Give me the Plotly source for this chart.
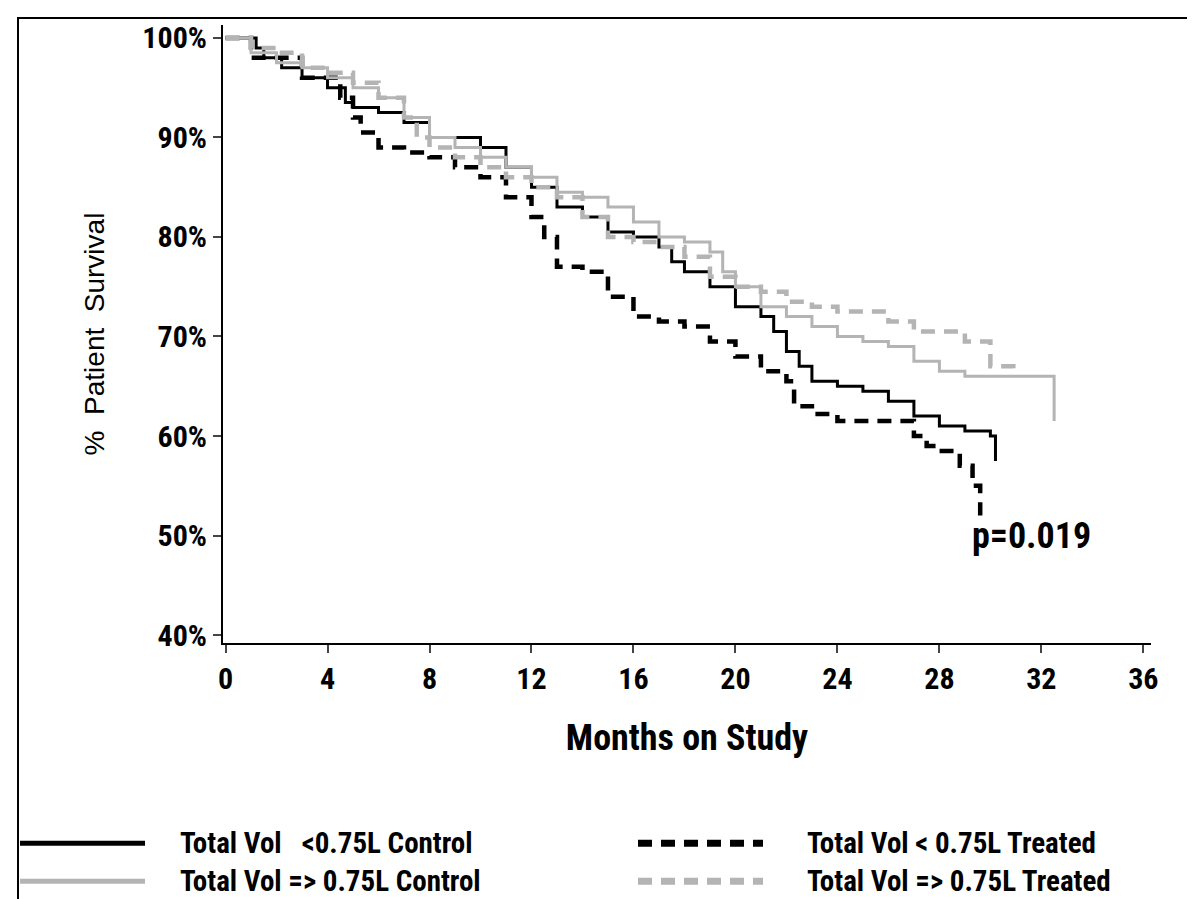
import plotly.graph_objects as go

# Kaplan-Meier curves (months, % survival)
ctrl_lo_t = [0, 1.2, 1.5, 2.2, 3, 4, 4.7, 5, 6, 7, 8, 9.5, 10, 11, 12, 13, 14, 15, 16, 17, 17.5, 18, 19, 20, 21, 21.5, 22, 22.5, 23, 24, 25, 26, 27, 28, 29, 30, 30.2]
ctrl_lo_s = [100, 99, 98, 97, 96, 95, 93.5, 93, 92.5, 91.5, 90, 90, 89, 87, 85, 83, 82, 80.5, 80, 79, 77.5, 76.5, 75, 73, 72, 70.5, 68.5, 67, 65.5, 65, 64.5, 63.5, 62, 61, 60.5, 60, 57.5]

trt_lo_t = [0, 1, 3, 4.5, 5, 5.3, 6, 7, 8, 9, 10, 11, 12, 12.5, 13, 14, 15, 16, 17, 18, 19, 20, 21, 22, 22.3, 23, 24, 26, 27, 27.5, 28, 28.8, 29.3, 29.6]
trt_lo_s = [100, 98, 96, 94, 92, 90.5, 89, 88.5, 88, 87, 86, 84, 82, 80, 77, 76.5, 74, 72, 71.5, 71, 69.5, 68, 66.5, 65.5, 63, 62.2, 61.5, 61.5, 60, 59, 58.5, 57, 55, 52]

ctrl_hi_t = [0, 1, 2, 3, 4, 5, 6, 7, 8, 9, 10, 11, 12, 13, 14, 15, 16, 17, 18, 19, 19.5, 20, 21, 22, 23, 24, 25, 26, 27, 28, 29, 32.5, 32.5]
ctrl_hi_s = [100, 98.5, 97.5, 97, 96, 95, 94, 92, 90, 89, 88, 87, 86, 84.5, 84, 83, 81.5, 80, 79.5, 78.5, 76.5, 75, 73, 72, 71, 70, 69.5, 69, 67.5, 66.5, 66, 66, 61.5]

trt_hi_t = [0, 1, 2, 3, 4, 5, 6, 7, 7.5, 8, 9, 10, 11, 12, 13, 14, 15, 16, 17, 18, 19, 20, 21, 22, 23, 24, 25, 26, 27, 28, 29, 30, 30.9]
trt_hi_s = [100, 99, 98.5, 97, 96.5, 95.5, 94, 92, 90, 89, 88, 87, 86, 85, 84, 82, 80, 79.5, 79, 78, 76, 75, 74.5, 73.5, 73, 72.5, 72.5, 71.5, 70.5, 70.5, 69.5, 67, 66]

x_ticks = [0, 4, 8, 12, 16, 20, 24, 28, 32, 36]
y_ticks = [40, 50, 60, 70, 80, 90, 100]

series = [
    (ctrl_lo_t, ctrl_lo_s, "black", "solid", "Total Vol   <0.75L Control"),
    (trt_lo_t, trt_lo_s, "black", "dash", "Total Vol < 0.75L Treated"),
    (ctrl_hi_t, ctrl_hi_s, "#b4b4b4", "solid", "Total Vol => 0.75L Control"),
    (trt_hi_t, trt_hi_s, "#b4b4b4", "dash", "Total Vol => 0.75L Treated"),
]

font = "Liberation Sans Narrow, Roboto Condensed, Liberation Sans, Arial"
fig = go.Figure()
for t, s, col, dash, name in series:
    fig.add_trace(go.Scatter(x=t, y=s, mode="lines",
                             line=dict(color=col, width=3 if dash == "solid" else 4.5,
                                       dash="solid" if dash == "solid" else "14px,9px", shape="hv"),
                             name=name, showlegend=False))

W, H = 928, 620
L, T = 215, 15
def px(x):
    return (x - L) / W
def py(y):
    return 1 - (y - T) / H

# legend drawn by hand to match the wide samples
leg = [(12, 137, 836, "black", "solid", series[0][4], 170),
       (630, 755, 836, "black", "dash", series[1][4], 797),
       (12, 137, 874, "#b4b4b4", "solid", series[2][4], 170),
       (630, 755, 874, "#b4b4b4", "dash", series[3][4], 797)]
for x0, x1, y, col, dash, name, tx in leg:
    fig.add_shape(type="line", xref="paper", yref="paper", x0=px(x0), x1=px(x1), y0=py(y), y1=py(y),
                  line=dict(color=col, width=5 if dash == "solid" else 7,
                            dash="solid" if dash == "solid" else "14px,9px"))
    fig.add_annotation(xref="paper", yref="paper", x=px(tx), y=py(y), text=f"<b>{name}</b>", showarrow=False,
                       xanchor="left", yanchor="middle", font=dict(size=29, family=font, color="black"))

fig.add_shape(type="rect", xref="paper", yref="paper", x0=px(10), x1=px(1190), y0=py(8), y1=py(905),
              line=dict(color="black", width=2))
fig.add_annotation(x=29.2, y=50, text="<b>p=0.019</b>", showarrow=False, xanchor="left",
                   font=dict(size=36, family=font, color="black"))

fig.update_layout(
    width=1195, height=899, margin=dict(l=L, r=1195 - L - W, t=T, b=899 - T - H),
    plot_bgcolor="white", paper_bgcolor="white",
    font=dict(family=font, color="black"),
    xaxis=dict(range=[-0.1, 36.3], tickvals=x_ticks, ticktext=[f"<b>{v}</b>" for v in x_ticks],
               ticks="outside", ticklen=8, tickwidth=2,
               showline=True, linecolor="black", linewidth=2, showgrid=False, zeroline=False,
               tickfont=dict(size=30, family=font, color="black"),
               title=dict(text="<b>Months on Study</b>", font=dict(size=36, family=font), standoff=30)),
    yaxis=dict(range=[39.2, 101.3], tickvals=y_ticks, ticktext=[f"<b>{v}%</b>" for v in y_ticks],
               ticks="outside", ticklen=8, tickwidth=2,
               showline=True, linecolor="black", linewidth=2, showgrid=False, zeroline=False,
               tickfont=dict(size=30, family=font, color="black"),
               title=dict(text="%  Patient  Survival", font=dict(size=28, family="Liberation Sans, Arial"), standoff=30)),
)
fig.write_html("out.html")
